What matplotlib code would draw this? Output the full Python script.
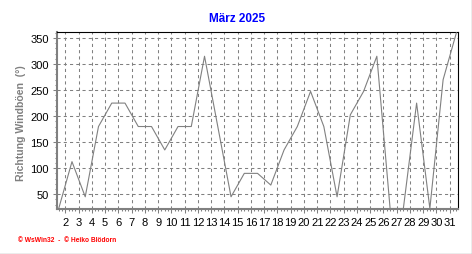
import numpy as np
import matplotlib
matplotlib.use("Agg")
import matplotlib.pyplot as plt
from matplotlib.lines import Line2D
from matplotlib.ticker import MultipleLocator

# Windboeen-Richtung pro Tag, Maerz 2025 (Grad)
tage = np.arange(1, 32)
richtung = [22.5, 112.5, 45, 180, 225, 225, 180, 180, 135, 180,
            180, 315, 180, 45, 90, 90, 67.5, 135, 180, 247.5,
            180, 45, 202.5, 247.5, 315, 22.5, 22.5, 225, 22.5, 270,
            360]
xticks = list(range(2, 32))
yticks = [50, 100, 150, 200, 250, 300, 350]

plt.rcParams['font.family'] = ['Liberation Sans', 'DejaVu Sans']

grau = '#808080'

fig = plt.figure(figsize=(4.72, 2.55), dpi=100)
ax = fig.add_axes([57/472, 1-209.5/255, (457.7-57)/472, (209.5-33.3)/255])

# Werte liegen jeweils auf Tagesmitte
ax.plot(tage + 0.5, richtung, color=grau, lw=0.8, zorder=3)

ax.set_xlim(1.37, 31.6)
ax.set_ylim(22.5, 361)
ax.set_xticks(xticks)
ax.set_xticklabels([str(t) for t in xticks])
ax.set_yticks(yticks)
ax.xaxis.set_minor_locator(MultipleLocator(0.25))
ax.yaxis.set_minor_locator(MultipleLocator(10))

ax.grid(True, which='major', color=grau, lw=0.75, linestyle=(0, (3, 3)))
ax.tick_params(which='major', length=3, width=0.75, color=grau, labelsize=8, pad=2.8)
ax.tick_params(which='minor', length=1.6, width=0.75, color=grau)

for s in ['left', 'bottom']:
    ax.spines[s].set_color(grau)
    ax.spines[s].set_linewidth(1.5)
for s in ['top', 'right']:
    ax.spines[s].set_color('black')
    ax.spines[s].set_linewidth(0.8)

fig.text(237/472, 1-19/255, 'März 2025', ha='center', va='center',
         fontsize=8.5, fontweight='bold', color='#0000ff')
fig.text(21.5/472, 1-123.5/255, 'Richtung Windböen  (°)', rotation=90,
         ha='center', va='center', fontsize=7.6, fontweight='bold', color=grau)
fig.text(18/472, 1-240.7/255, '© WsWin32  -  © Heiko Blödorn', ha='left', va='center',
         fontsize=4.8, fontweight='bold', color='#ff0000')

# grauer Rahmen rechts und unten
fig.add_artist(Line2D([0, 1], [0.5/255, 0.5/255], color='#a0a0a0', lw=1, transform=fig.transFigure))
fig.add_artist(Line2D([1-0.5/472, 1-0.5/472], [0, 1], color='#a0a0a0', lw=1, transform=fig.transFigure))

fig.savefig('out.png', dpi=100)
